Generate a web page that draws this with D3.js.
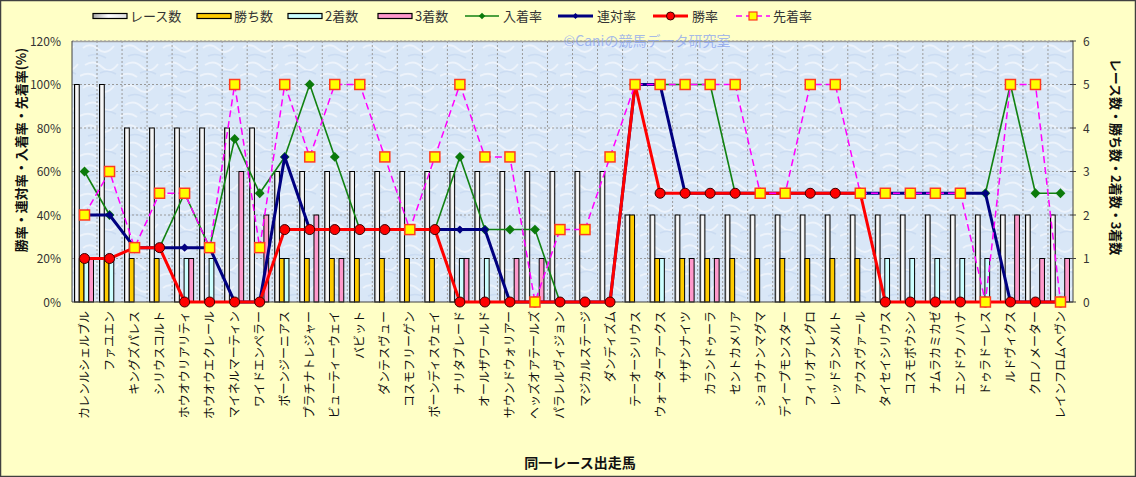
<!DOCTYPE html>
<html><head><meta charset="utf-8">
<script src="https://cdn.jsdelivr.net/npm/d3@7"></script>
<style>
html,body{margin:0;padding:0;background:#fff;}
svg{display:block;font-family:"Noto Sans CJK JP","Noto Sans",sans-serif;}
</style></head>
<body>
<svg id="chart" width="1136" height="477"></svg>
<script>
const horses = ["カレンルシェルブル","ファユエン","キングズパレス","シリウスコルト","ホウオウリアリティ","ホウオウエクレール","マイネルマーティン","ワイドエンペラー","ボーンジーニアス","プラチナトレジャー","ビューティーウェイ","バビット","ダンテスヴュー","コスモフリーゲン","ボーンディスウェイ","ナリタブレード","オールザワールド","サウンドウォリアー","ヘッズオアテールズ","パラレルヴィジョン","マジカルステージ","ダンディズム","テーオーシリウス","ウォーターアークス","サザンナイツ","カランドゥーラ","セントカメリア","ショウナンマグマ","ディープモンスター","フィリオアレグロ","レッドランメルト","アウスヴァール","タイセイシリウス","コスモボウシン","ナムラカミカゼ","エンドウノハナ","ドゥラドーレス","ルドヴィクス","クロノメーター","レインフロムヘヴン"];
const races  = [5,5,4,4,4,4,4,4,3,3,3,3,3,3,3,3,3,3,3,3,3,3,2,2,2,2,2,2,2,2,2,2,2,2,2,2,2,2,2,2];
const wins   = [1,1,1,1,0,0,0,0,1,1,1,1,1,1,1,0,0,0,0,0,0,0,2,1,1,1,1,1,1,1,1,1,0,0,0,0,0,0,0,0];
const second = [1,1,0,0,1,1,0,0,1,0,0,0,0,0,0,1,1,0,0,0,0,0,0,1,0,0,0,0,0,0,0,0,1,1,1,1,1,0,0,0];
const third  = [1,0,0,0,1,0,3,2,0,2,1,0,0,0,0,1,0,1,1,0,0,0,0,0,1,1,0,0,0,0,0,0,0,0,0,0,0,2,1,1];
const placeRate  = [60,40,25,25,50,25,75,50,66.7,100,66.7,33.3,33.3,33.3,33.3,66.7,33.3,33.3,33.3,0,0,0,100,100,100,100,50,50,50,50,50,50,50,50,50,50,50,100,50,50];
const rentaiRate = [40,40,25,25,25,25,0,0,66.7,33.3,33.3,33.3,33.3,33.3,33.3,33.3,33.3,0,0,0,0,0,100,100,50,50,50,50,50,50,50,50,50,50,50,50,50,0,0,0];
const winRate    = [20,20,25,25,0,0,0,0,33.3,33.3,33.3,33.3,33.3,33.3,33.3,0,0,0,0,0,0,0,100,50,50,50,50,50,50,50,50,50,0,0,0,0,0,0,0,0];
const senchakuRate = [40,60,25,50,50,25,100,25,100,66.7,100,100,66.7,33.3,66.7,100,66.7,66.7,0,33.3,33.3,66.7,100,100,100,100,100,50,50,100,100,50,50,50,50,50,0,100,100,0];
const leftTicks = [0,20,40,60,80,100,120];
const rightTicks = [0,1,2,3,4,5,6];
const barSeries = ["レース数","勝ち数","2着数","3着数"];
const lineSeries = ["入着率","連対率","勝率","先着率"];

const svg = d3.select("#chart");
const W = 1136, H = 477;
const P = {l:72, r:1073, t:41, b:302};

const defs = svg.append("defs");
const g1 = defs.append("linearGradient").attr("id","raceGrad").attr("x1","0").attr("x2","1").attr("y1","0").attr("y2","0");
g1.append("stop").attr("offset","0%").attr("stop-color","#a8a8a8");
g1.append("stop").attr("offset","45%").attr("stop-color","#ffffff");
g1.append("stop").attr("offset","100%").attr("stop-color","#e0e0e0");
const pat = defs.append("pattern").attr("id","tex").attr("width",40).attr("height",40).attr("patternUnits","userSpaceOnUse");
pat.append("rect").attr("width",40).attr("height",40).attr("fill","#d9e7f7");
pat.append("path").attr("d","M3 8 Q10 2 18 9 T34 6 M5 25 Q14 19 22 27 T38 24 M0 36 Q9 31 17 37").attr("stroke","#edf3fb").attr("stroke-width",2).attr("fill","none");
pat.append("path").attr("d","M8 16 Q16 12 26 18 M20 33 Q28 29 36 34").attr("stroke","#cbdcf2").attr("stroke-width",1.5).attr("fill","none");

// background
svg.append("rect").attr("x",0.5).attr("y",0.5).attr("width",W-1).attr("height",H-1).attr("fill","#ffffc6").attr("stroke","#404040").attr("stroke-width",1.5);
svg.append("rect").attr("x",P.l).attr("y",P.t).attr("width",P.r-P.l).attr("height",P.b-P.t).attr("fill","url(#tex)");

const x = d3.scaleBand().domain(horses).range([P.l,P.r]).padding(0);
const yL = d3.scaleLinear().domain([0,120]).range([P.b,P.t]);
const yR = d3.scaleLinear().domain([0,6]).range([P.b,P.t]);
const xs = d3.scaleBand().domain(barSeries).range([2.5,21.5]).padding(0);

// grid
const grid = svg.append("g");
grid.selectAll("line.h").data(leftTicks.slice(1)).join("line")
  .attr("x1",P.l).attr("x2",P.r).attr("y1",d=>yL(d)).attr("y2",d=>yL(d))
  .attr("stroke","#9a9a9a").attr("stroke-dasharray","2,2").attr("stroke-width",1);
grid.selectAll("line.v").data(horses.slice(1)).join("line")
  .attr("x1",d=>x(d)).attr("x2",d=>x(d)).attr("y1",P.t).attr("y2",P.b)
  .attr("stroke","#9a9a9a").attr("stroke-dasharray","2,2").attr("stroke-width",1);
svg.append("line").attr("x1",P.l).attr("x2",P.r).attr("y1",P.t+0.5).attr("y2",P.t+0.5).attr("stroke","#a0a0a0").attr("stroke-width",1.5);

// watermark
svg.append("text").attr("x",647).attr("y",46).attr("text-anchor","middle").attr("font-size",14)
  .attr("fill","#8aa4f0").attr("fill-opacity",0.75).text("©Caniの競馬データ研究室");

// bars
const barData = [races,wins,second,third];
const barFill = ["url(#raceGrad)","#ffcc00","#ccffff","#ff99cc"];
barData.forEach((arr,si)=>{
  svg.append("g").selectAll("rect").data(arr.map((v,i)=>({v,h:horses[i]}))).join("rect")
    .filter(d=>d.v>0)
    .attr("x",d=>x(d.h)+xs(barSeries[si])).attr("width",xs.bandwidth())
    .attr("y",d=>yR(d.v)).attr("height",d=>yR(0)-yR(d.v))
    .attr("fill",barFill[si]).attr("stroke","#000").attr("stroke-width",1);
});

// axes lines
svg.append("line").attr("x1",P.l).attr("x2",P.l).attr("y1",P.t).attr("y2",P.b).attr("stroke","#404040");
svg.append("line").attr("x1",P.r).attr("x2",P.r).attr("y1",P.t).attr("y2",P.b).attr("stroke","#404040");
svg.append("line").attr("x1",P.l).attr("x2",P.r).attr("y1",P.b).attr("y2",P.b).attr("stroke","#404040");

// lines
const cx = h => x(h)+x.bandwidth()/2;
function lineSer(arr, color, width, dash){
  const ln = d3.line().x((d,i)=>cx(horses[i])).y(d=>yL(d));
  svg.append("path").datum(arr).attr("d",ln).attr("fill","none").attr("stroke",color)
    .attr("stroke-width",width).attr("stroke-dasharray",dash||null).attr("stroke-linejoin","round");
}
// 入着率
lineSer(placeRate,"#128212",1.6);
svg.append("g").selectAll("path").data(placeRate).join("path")
  .attr("d",d3.symbol().type(d3.symbolSquare).size(48)).attr("transform",(d,i)=>`translate(${cx(horses[i])},${yL(d)}) rotate(45)`)
  .attr("fill","#0b7a0b");
// 連対率
lineSer(rentaiRate,"#000080",3);
svg.append("g").selectAll("path").data(rentaiRate).join("path")
  .attr("d",d3.symbol().type(d3.symbolSquare).size(34)).attr("transform",(d,i)=>`translate(${cx(horses[i])},${yL(d)}) rotate(45)`)
  .attr("fill","#000080");
// 勝率
lineSer(winRate,"#ff0000",3);
svg.append("g").selectAll("circle").data(winRate).join("circle")
  .attr("cx",(d,i)=>cx(horses[i])).attr("cy",d=>yL(d)).attr("r",5)
  .attr("fill","#ff0000").attr("stroke","#3a0000").attr("stroke-width",1);
// 先着率
lineSer(senchakuRate,"#ff00ff",1.5,"7,4");
svg.append("g").selectAll("rect").data(senchakuRate).join("rect")
  .attr("x",(d,i)=>cx(horses[i])-5).attr("y",d=>yL(d)-5).attr("width",10).attr("height",10)
  .attr("fill","#ffff00").attr("stroke","#ff3c1e").attr("stroke-width",1.5);

// left ticks
svg.append("g").selectAll("text").data(leftTicks).join("text")
  .attr("x",61).attr("y",d=>yL(d)+4.5).attr("text-anchor","end").attr("font-size",12).attr("fill","#333")
  .text(d=>d+"%");
// right ticks
svg.append("g").selectAll("text").data(rightTicks).join("text")
  .attr("x",1083).attr("y",d=>yR(d)+4.5).attr("text-anchor","start").attr("font-size",12).attr("fill","#333")
  .text(d=>d);
svg.append("g").selectAll("line").data(rightTicks).join("line")
  .attr("x1",P.r-3).attr("x2",P.r+3).attr("y1",d=>yR(d)).attr("y2",d=>yR(d)).attr("stroke","#404040");

// x labels
svg.append("g").selectAll("text").data(horses).join("text")
  .attr("transform",d=>`translate(${cx(d)+4.5},311) rotate(-90)`)
  .attr("text-anchor","end").attr("font-size",12).attr("fill","#111").text(d=>d);

// axis titles
svg.append("text").attr("transform","translate(26,150) rotate(-90)").attr("text-anchor","middle")
  .attr("font-size",13).attr("font-weight","bold").attr("fill","#111").text("勝率・連対率・入着率・先着率(%)");
svg.append("text").attr("transform","translate(1111,157) rotate(90)").attr("text-anchor","middle")
  .attr("font-size",13).attr("font-weight","bold").attr("fill","#111").text("レース数・勝ち数・2着数・3着数");
svg.append("text").attr("x",580).attr("y",468).attr("text-anchor","middle")
  .attr("font-size",14).attr("font-weight","bold").attr("fill","#111").text("同一レース出走馬");

// legend
const lg = svg.append("g");
const barLeg = [[93,barSeries[0],barFill[0]],[197,barSeries[1],barFill[1]],[288,barSeries[2],barFill[2]],[378,barSeries[3],barFill[3]]];
barLeg.forEach(([lx,t,f])=>{
  lg.append("rect").attr("x",lx).attr("y",13.5).attr("width",34).attr("height",5).attr("fill",f).attr("stroke","#000").attr("stroke-width",1.2);
  lg.append("text").attr("x",lx+37).attr("y",21).attr("font-size",13).attr("fill","#333").text(t);
});
const lineLeg = [[465,lineSeries[0]],[558,lineSeries[1]],[653,lineSeries[2]],[736,lineSeries[3]]];
lg.append("line").attr("x1",465).attr("x2",499).attr("y1",16).attr("y2",16).attr("stroke","#128212").attr("stroke-width",1.5);
lg.append("path").attr("d",d3.symbol().type(d3.symbolSquare).size(22)).attr("transform","translate(482,16) rotate(45)").attr("fill","#0b7a0b");
lg.append("line").attr("x1",558).attr("x2",593).attr("y1",16).attr("y2",16).attr("stroke","#000080").attr("stroke-width",3);
lg.append("path").attr("d",d3.symbol().type(d3.symbolSquare).size(18)).attr("transform","translate(575.5,16) rotate(45)").attr("fill","#000080");
lg.append("line").attr("x1",653).attr("x2",688).attr("y1",16).attr("y2",16).attr("stroke","#ff0000").attr("stroke-width",3);
lg.append("circle").attr("cx",670.5).attr("cy",16).attr("r",4).attr("fill","#ff0000").attr("stroke","#3a0000");
lg.append("line").attr("x1",736).attr("x2",770).attr("y1",16).attr("y2",16).attr("stroke","#ff00ff").attr("stroke-width",1.5).attr("stroke-dasharray","6,4");
lg.append("rect").attr("x",749).attr("y",12).attr("width",8).attr("height",8).attr("fill","#ffff00").attr("stroke","#ff3c1e").attr("stroke-width",1.2);
lineLeg.forEach(([lx,t],i)=>{
  const off = [38,39,39,37][i];
  lg.append("text").attr("x",lx+off).attr("y",21).attr("font-size",13).attr("fill","#333").text(t);
});
</script>
</body></html>
